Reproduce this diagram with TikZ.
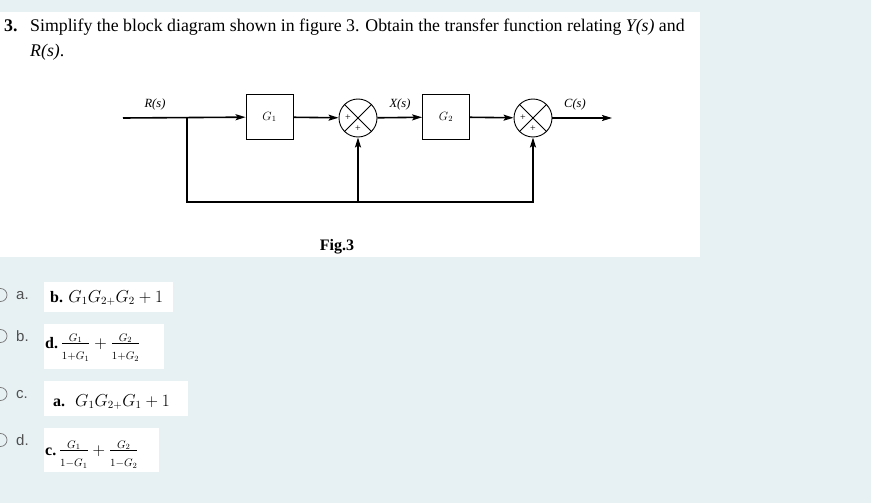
\documentclass[tikz,border=0pt]{standalone}
\usepackage{amsmath}
\usepackage{fontspec}
\setmainfont{Liberation Serif}
\newfontfamily\optfont{Liberation Sans}
\usetikzlibrary{arrows.meta, positioning}
\definecolor{pagebg}{RGB}{231,241,244}
\definecolor{optgray}{RGB}{80,80,80}
\definecolor{radiogray}{RGB}{120,120,120}

\begin{document}
\begin{tikzpicture}[x=1pt, y=-1pt,
	blk/.style={draw, line width=0.8pt, minimum width=47pt, minimum height=45pt, inner sep=0pt, font=\fontsize{12}{13}\selectfont},
	sumnode/.style={draw, circle, line width=0.9pt, minimum size=38pt, inner sep=0pt},
	sig/.style={line width=1.6pt, -{Stealth[length=10pt, width=6pt, inset=2pt]}},
	lbl/.style={anchor=base, inner sep=0pt, font=\fontsize{12.5}{13}\selectfont\itshape},
	pm/.style={inner sep=0pt, font=\fontsize{10}{10}\selectfont},
	qtext/.style={anchor=base west, inner sep=0pt, font=\fontsize{17.8}{20}\selectfont},
	optlbl/.style={anchor=base west, inner sep=0pt, text=optgray, font=\optfont\fontsize{15}{17}\selectfont},
	radio/.style={draw=radiogray, circle, line width=0.7pt, minimum size=13pt, inner sep=0pt},
	anstext/.style={anchor=base west, inner sep=0pt, font=\fontsize{16}{19}\selectfont}
	]
	% Page
	\fill[pagebg] (0,0) rectangle (871,503);
	\fill[white] (0,12) rectangle (700,257);
	\useasboundingbox (0,0) rectangle (871,503);
	
	% Question
	\node[qtext] (qnum) at (4,32) {\textbf{3.}};
	\node[qtext] (qline1) at (30,32) {Simplify the block diagram shown in figure 3. Obtain the transfer function relating \textit{Y(s)} and};
	\node[qtext] (qline2) at (30,57) {\textit{R(s)}.};
	
	% Blocks
	\node[blk] (g1) at (269.5,117) {$G_1$};
	\node[sumnode] (s1) at (358,118) {};
	\node[blk] (g2) at (446,117) {$G_2$};
	\node[sumnode] (s2) at (533,118) {};
	\draw[line width=0.8pt] (s1.north west) -- (s1.south east) (s1.north east) -- (s1.south west);
	\draw[line width=0.8pt] (s2.north west) -- (s2.south east) (s2.north east) -- (s2.south west);
	\node[pm] (s1a) at (348,118) {+};
	\node[pm] (s1b) at (358,129) {+};
	\node[pm] (s2a) at (523,118) {+};
	\node[pm] (s2b) at (533,129) {+};
	
	% Signal points
	\coordinate (rin) at (123,118);
	\coordinate (tap) at (187,118);
	\coordinate (cout) at (612,118);
	\coordinate (bm) at (358,202);
	\coordinate (br) at (533,202);
	
	% Arrows
	\draw[sig] (rin) -- (g1);
	\draw[sig] (g1) -- (s1);
	\draw[sig] (s1) -- (g2);
	\draw[sig] (g2) -- (s2);
	\draw[sig] (s2) -- (cout);
	\draw[sig] (tap) |- (br) -- (s2);
	\draw[sig] (bm) -- (s1);
	
	% Signal labels
	\node[lbl] (rlab) at (155,108) {R(s)};
	\node[lbl] (xlab) at (400,108) {X(s)};
	\node[lbl] (clab) at (575,108) {C(s)};
	\node[qtext, anchor=base, font=\fontsize{16}{19}\selectfont\bfseries] (fig) at (337,250) {Fig.3};
	
	% Options
	\begin{scope}
		\clip (0,0) rectangle (871,503);
		\node[radio] (ra) at (0.5,295) {};
		\node[radio] (rb) at (0.5,336) {};
		\node[radio] (rc) at (0.5,394) {};
		\node[radio] (rd) at (0.5,440) {};
	\end{scope}
	\node[optlbl] (oa) at (16,299) {a.};
	\node[optlbl] (ob) at (16,341) {b.};
	\node[optlbl] (oc) at (16,398) {c.};
	\node[optlbl] (od) at (16,445) {d.};
	
	% Answers
	\fill[white] (44,282) rectangle (173,312);
	\fill[white] (44,324) rectangle (164,369);
	\fill[white] (44,381) rectangle (188,416);
	\fill[white] (44,428) rectangle (159,472);
	\node[anstext] (ansa) at (50,302) {\textbf{b.} $G_1G_{2+}G_2+1$};
	\node[anstext] (ansb) at (45,348) {\textbf{d.}\,$\frac{G_1}{\rule{0pt}{15pt}1+G_1}+\frac{G_2}{\rule{0pt}{15pt}1+G_2}$};
	\node[anstext] (ansc) at (53,406) {\textbf{a.}\hspace{10pt}$G_1G_{2+}G_1+1$};
	\node[anstext] (ansd) at (45,455) {\textbf{c.}\,$\frac{G_1}{\rule{0pt}{15pt}1-G_1}+\frac{G_2}{\rule{0pt}{15pt}1-G_2}$};
\end{tikzpicture}
\end{document}
